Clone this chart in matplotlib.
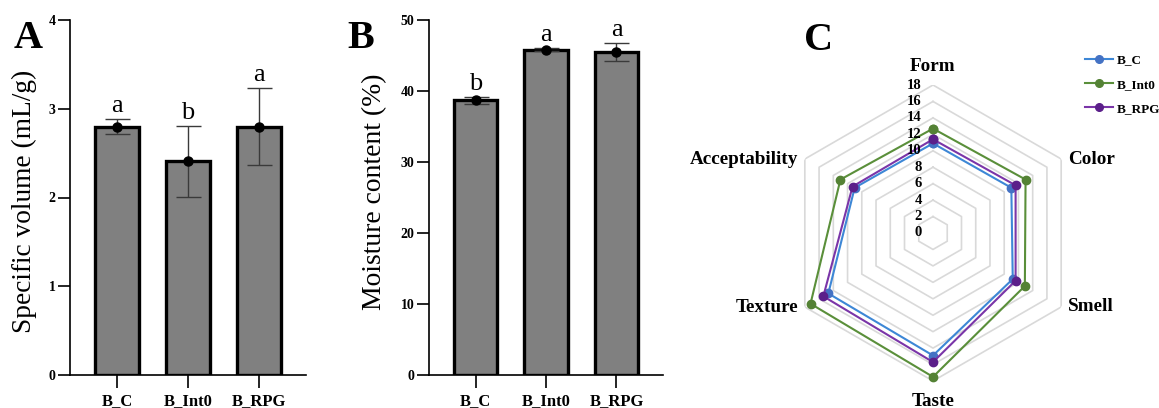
import numpy as np
import matplotlib
matplotlib.use("Agg")
import matplotlib.pyplot as plt

plt.rcParams['font.family'] = ['Liberation Serif', 'DejaVu Serif']

# ---------------- data ----------------
groups = ["B_C", "B_Int0", "B_RPG"]

sv_mean = [2.80, 2.41, 2.80]
sv_err = [0.09, 0.40, 0.43]
sv_letters = ["a", "b", "a"]

mc_mean = [38.7, 45.8, 45.5]
mc_err = [0.5, 0.2, 1.3]
mc_letters = ["b", "a", "a"]

attributes = ["Form", "Color", "Smell", "Taste", "Texture", "Acceptability"]
radar_BC = [10.9, 11.0, 11.2, 14.9, 14.7, 11.0]
radar_BInt0 = [12.7, 13.0, 12.9, 17.5, 17.2, 13.0]
radar_BRPG = [11.4, 11.6, 11.6, 15.7, 15.4, 11.3]
radar_series = {"B_C": radar_BC, "B_Int0": radar_BInt0, "B_RPG": radar_BRPG}
radar_colors = {"B_C": "#3d87d6", "B_Int0": "#5a8f3a", "B_RPG": "#7a35a8"}
marker_colors = {"B_C": "#4472c4", "B_Int0": "#548235", "B_RPG": "#5b1f8a"}
radar_ticks = [0, 2, 4, 6, 8, 10, 12, 14, 16, 18]

W, H = 1159, 408
fig = plt.figure(figsize=(W / 100, H / 100), dpi=100)


def px_axes(left, top, right, bottom, **kw):
    return fig.add_axes([left / W, (H - bottom) / H, (right - left) / W, (bottom - top) / H], **kw)


def bar_panel(ax, means, errs, letters, ylim, yticks, ylabel, labx, laby, labsize):
    x = np.arange(len(groups))
    ax.bar(x, means, width=0.62, color="#808080", edgecolor="black", linewidth=2.4, zorder=2)
    ax.errorbar(x, means, yerr=errs, fmt="none", ecolor="#3a3a3a", elinewidth=1.0,
                capsize=9, capthick=1.0, zorder=3)
    ax.plot(x, means, "o", color="black", markersize=6.5, zorder=4)
    for xi, m, e, l in zip(x, means, errs, letters):
        ax.annotate(l, (xi, m + e), xytext=(0, 5), textcoords="offset points",
                    ha="center", va="baseline", fontsize=19)
    ax.set_xlim(-0.66, 2.66)
    ax.set_ylim(*ylim)
    ax.set_yticks(yticks)
    ax.set_xticks(x)
    ax.set_xticklabels(groups, fontsize=12, fontweight="bold")
    for t in ax.get_yticklabels():
        t.set_fontweight("bold")
        t.set_fontsize(10)
    ax.spines["top"].set_visible(False)
    ax.spines["right"].set_visible(False)
    ax.spines["left"].set_linewidth(1.2)
    ax.spines["bottom"].set_linewidth(1.2)
    ax.tick_params(axis="y", length=9, width=1.2, pad=1.5)
    ax.tick_params(axis="x", length=9, width=1.2, pad=4)
    ax.set_ylabel(ylabel, fontsize=labsize)
    ax.yaxis.set_label_coords(labx, laby)


axA = px_axes(70, 20, 306, 375)
bar_panel(axA, sv_mean, sv_err, sv_letters, (0, 4), [0, 1, 2, 3, 4],
          "Specific volume (mL/g)", -0.138, 0.49, 19.7)

axB = px_axes(429, 20, 663, 375)
bar_panel(axB, mc_mean, mc_err, mc_letters, (0, 50), [0, 10, 20, 30, 40, 50],
          "Moisture content (%)", -0.177, 0.515, 19.9)

# ---------------- radar ----------------
cx, cy, R = 933, 233, 148
axC = px_axes(cx - R, cy - R, cx + R, cy + R, projection="polar")
axC.set_theta_offset(np.pi / 2)
axC.set_theta_direction(-1)
axC.set_ylim(0, 18)
axC.grid(False)
axC.spines["polar"].set_visible(False)
axC.set_xticks([])
axC.set_yticks([])
axC.patch.set_alpha(0)

n = len(attributes)
angles = np.linspace(0, 2 * np.pi, n, endpoint=False)
ang_closed = np.concatenate([angles, angles[:1]])
for r in radar_ticks[1:]:
    axC.plot(ang_closed, [r] * (n + 1), color="#d9d9d9", lw=1.2, zorder=1)
for r in radar_ticks:
    axC.annotate(str(r), (0, r), xytext=(-8, 0), textcoords="offset points",
                 ha="right", va="center", fontsize=10.5, fontweight="bold", zorder=5)

for name, vals in radar_series.items():
    v = list(vals) + [vals[0]]
    axC.plot(ang_closed, v, color=radar_colors[name], lw=1.5, marker="o", markersize=6,
             markerfacecolor=marker_colors[name], markeredgecolor=marker_colors[name],
             label=name, zorder=3, clip_on=False)

label_offsets = {
    "Form": (0, 13, "center"),
    "Color": (5, 0, "left"),
    "Smell": (5, 0, "left"),
    "Taste": (0, -15, "center"),
    "Texture": (-5, 0, "right"),
    "Acceptability": (-5, 0, "right"),
}
for a, name in zip(angles, attributes):
    dx, dy, ha = label_offsets[name]
    axC.annotate(name, (a, 18), xytext=(dx, dy), textcoords="offset points",
                 ha=ha, va="center", fontsize=13.8, fontweight="bold", annotation_clip=False)

leg = fig.legend(*axC.get_legend_handles_labels(), loc="upper left",
                 bbox_to_anchor=(1080 / W, (H - 49) / H), frameon=False,
                 prop={"weight": "bold", "size": 9.5}, handlelength=2.1,
                 handletextpad=0.3, labelspacing=0.9, borderaxespad=0, borderpad=0.4)
for h in leg.legend_handles:
    h.set_markersize(5.5)

# panel letters
for txt, x, yb in [("A", 14, 48), ("B", 347, 48), ("C", 804, 50)]:
    fig.text(x / W, (H - yb) / H, txt, fontsize=29, fontweight="bold", ha="left", va="baseline")

fig.savefig("out.png", dpi=100)
